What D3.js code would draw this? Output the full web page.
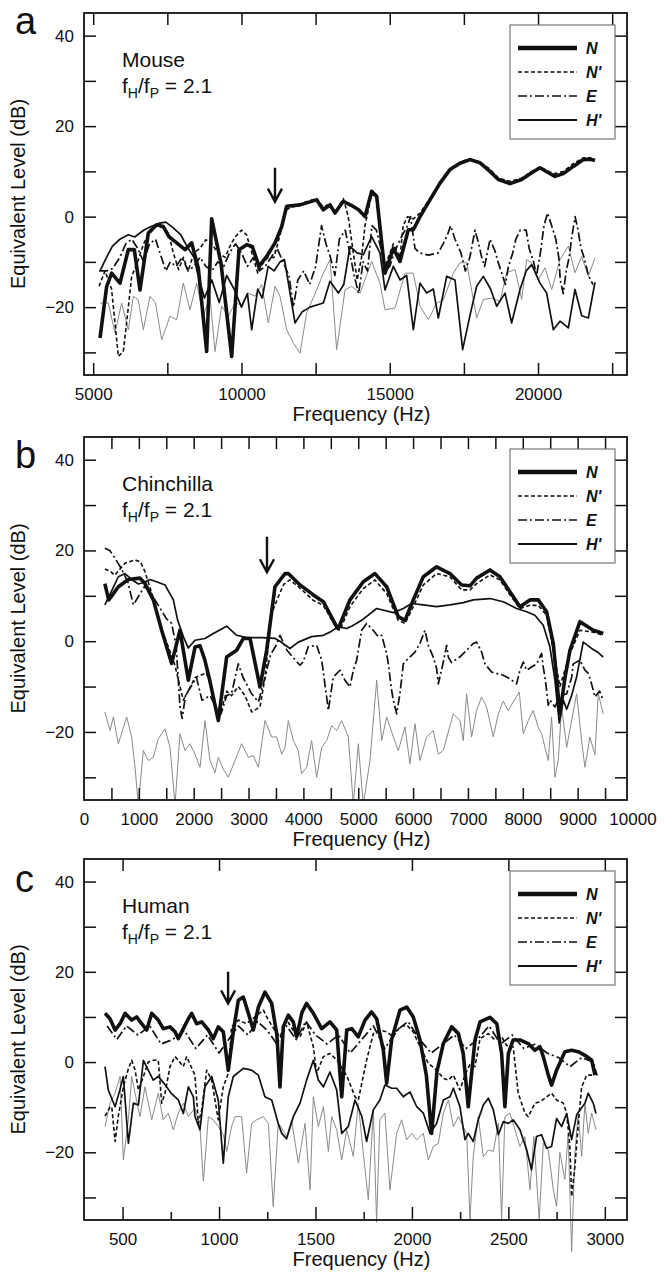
<!DOCTYPE html>
<html>
<head>
<meta charset="utf-8">
<script src="https://d3js.org/d3.v7.min.js"></script>
<style>
body { margin: 0; background: #fff; }
text { font-family: "Liberation Sans", Arial, Helvetica, sans-serif; fill: #111; }
</style>
</head>
<body>
<div id="chart"></div>
<script>
// ---- panel a : mouse ----
var mouseN = [[5230,-26.8],[5455,-15.4],[5623,-12.5],[5904,-14.7],[6185,-7.3],[6387,-7.3],[6578,-16.2],[6859,-3.6],[7140,-1.8],[7365,-2.2],[7556,-4.4],[7815,-5.8],[8096,-7.3],[8321,-5.8],[8545,-11.4],[8826,-29.8],[8995,-0.5],[9310,-10.3],[9670,-30.9],[9917,-7.3],[10175,-6.2],[10366,-6.6],[10591,-11],[10850,-8.8],[11131,-5.8],[11356,-2.2],[11524,2.3],[11973,2.6],[12535,3.7],[12760,1.5],[12985,2.6],[13154,0.8],[13435,3.4],[13700,2.5],[13950,1.5],[14165,0],[14390,5.6],[14559,4.5],[14840,-12.5],[15121,-7],[15345,-9.9],[15626,-2.9],[15795,-2.9],[16020,0],[16357,3.7],[16694,7.4],[17031,10.4],[17368,11.8],[17706,12.6],[18043,11.9],[18380,10],[18662,8.2],[19055,7.3],[19448,8.2],[19786,9.7],[20066,10.8],[20348,9.7],[20572,8.9],[20853,9.5],[21191,11.1],[21528,12.6],[21753,12.7],[21921,12.4]];
var mouseNp = [[5196,-15.4],[5400,-12],[5620,-16],[5848,-30.9],[6016,-29.8],[6185,-20],[6297,-13.2],[6500,-10],[6700,-6],[6860,-4],[7140,-2],[7365,-2.5],[7556,-4],[7700,-8],[7880,-11.7],[8040,-9],[8200,-12],[8400,-8],[8600,-7],[8800,-5.1],[9000,-6],[9200,-8],[9450,-9],[9650,-6],[9800,-4.4],[10000,-3],[10170,-4],[10350,-8],[10550,-12.5],[10750,-10],[10900,-9],[11100,-9],[11300,-4],[11500,1.5],[11973,2.8],[12535,4],[12760,2],[12985,3],[13154,1],[13435,4],[13600,0],[13750,-7],[13900,-14],[14050,-9],[14165,-2],[14390,5],[14559,4],[14700,-5],[14840,-11],[15121,-6],[15345,-9],[15450,-2],[15600,0],[15795,-0.5],[16020,0.8],[16357,4],[16694,7.5],[17031,10.5],[17368,12],[17706,12.8],[18043,12],[18380,10.5],[18662,8.5],[19055,7.8],[19448,8.5],[19786,10],[20066,11],[20348,10],[20572,9.5],[20853,10],[21191,11.7],[21528,13],[21753,13],[21921,12.6]];
var mouseE = [[5200,-12],[5450,-12],[5650,-11.5],[5900,-9],[6100,-6],[6300,-5],[6500,-7],[6700,-10],[6900,-6],[7100,-5],[7300,-9],[7450,-12],[7600,-10],[7800,-11],[8000,-9],[8200,-12],[8400,-11],[8600,-9],[8800,-11],[9000,-12],[9200,-10],[9400,-11],[9600,-8],[9800,-6],[10000,-8],[10200,-11],[10400,-9],[10600,-12],[10800,-11],[11000,-9],[11200,-7],[11400,-10],[11600,-13],[11750,-20],[11900,-14],[12100,-12],[12300,-15],[12500,-11],[12700,-2],[12850,-6],[13000,-9],[13150,-13],[13300,-5],[13500,-3],[13650,-8],[13800,-13],[13950,-17],[14100,-10],[14250,-12],[14400,-2],[14550,-3],[14700,-7],[14850,-12],[15000,-11],[15150,-8],[15350,-5],[15600,-2],[15700,0],[15850,-7],[16000,-8],[16300,-8.5],[16640,-8],[16800,-6],[16950,-4],[17050,-2],[17200,-5],[17400,-8],[17550,-12],[17700,-9],[17875,-3],[18000,-6],[18100,-9],[18200,-11],[18380,-5],[18550,-7.6],[18650,-10],[18800,-13],[18900,-15],[19000,-11],[19150,-8],[19250,-5],[19400,-3],[19600,-3],[19700,-7],[19850,-10],[19950,-13],[20080,-8],[20200,-2],[20320,0.8],[20460,-2],[20600,-5],[20700,-9],[20750,-14],[20850,-17],[20950,-12],[21050,-9],[21150,-4],[21250,0],[21350,-3],[21450,-7],[21550,-9],[21700,-13],[21850,-15]];
var mouseH = [[5230,-12],[5450,-9],[5650,-6.5],[5900,-5],[6185,-4],[6400,-4.5],[6700,-3],[6950,-2.2],[7200,-1.5],[7450,-1.2],[7700,-2.5],[7950,-4],[8200,-7],[8400,-9],[8500,-12],[8750,-18],[9000,-14],[9250,-19],[9500,-13],[9750,-16],[10000,-20],[10200,-17],[10344,-25],[10550,-16],[10700,-18],[10900,-11],[11100,-12],[11300,-10],[11450,-9.5],[11805,-23.5],[12050,-21],[12310,-20],[12760,-19.1],[12985,-14.3],[13266,-16.9],[13450,-15],[13660,-6.6],[13900,-8],[14109,-8.4],[14390,-4.4],[14670,-8],[14840,-16.2],[15121,-11],[15345,-14],[15570,-13],[15795,-25],[16020,-14.7],[16245,-16.9],[16470,-16],[16638,-22.4],[16919,-13.2],[17200,-14],[17458,-29.4],[17700,-22],[17930,-15.4],[18156,-13.2],[18400,-16],[18605,-19.8],[18887,-16.9],[19110,-23.5],[19392,-16.1],[19600,-12],[19786,-10.6],[20066,-14.7],[20290,-16.9],[20516,-25],[20741,-23.1],[21022,-24.6],[21247,-16.1],[21472,-21.9],[21697,-22.4],[21921,-14.5]];
var mouseNoise = [[5230,-19.1],[5510,-19.1],[5735,-25.7],[5960,-19.1],[6185,-25],[6354,-17.6],[6522,-18.4],[6691,-25],[6916,-17.6],[7100,-19],[7309,-27.2],[7590,-22],[7815,-22.8],[8040,-14.7],[8264,-20.6],[8489,-14.7],[8714,-22],[8939,-17.6],[9107,-29.8],[9332,-19.8],[9557,-22],[9782,-19.1],[10007,-19.5],[10231,-16.9],[10456,-17.6],[10680,-15],[10906,-23.5],[11131,-15.4],[11299,-17.6],[11524,-25],[11749,-27.9],[11973,-30.2],[12198,-21.3],[12535,-16.2],[12760,-12.5],[12985,-9.5],[13210,-29.4],[13491,-16.2],[13716,-15.4],[13997,-16.9],[14390,-9.9],[14671,-14.7],[14840,-20.6],[15177,-20.2],[15514,-12.5],[15795,-12.5],[16020,-19.8],[16301,-22.8],[16582,-19.1],[16807,-18.4],[17144,-12.5],[17369,-10.2],[17594,-10.2],[17931,-22.4],[18156,-18.3],[18437,-18],[18718,-18.7],[18943,-12.4],[19224,-11.7],[19448,-18.3],[19617,-9.5],[19786,-10.2],[20010,-13.9],[20235,-11.3],[20460,-16.1],[20741,-9.5],[21022,-6.5],[21247,-12.4],[21472,-8.8],[21697,-13.2],[21921,-9.1]];

// ---- panel b : chinchilla ----
var chinN = [[380,12.7],[450,9.1],[520,10.2],[626,12],[808,13.6],[1021,13.9],[1112,12.7],[1264,9.1],[1416,2.4],[1598,-4.9],[1750,2.4],[1902,-8.6],[2024,-1.3],[2115,-1],[2200,-4],[2300,-9],[2449,-17.5],[2601,-3.5],[2783,-2],[2905,0.6],[3027,0.6],[3209,-10.1],[3330,-2],[3482,12],[3665,14.9],[3725,14.9],[3938,12.4],[4181,10.2],[4363,8.7],[4606,3.2],[4637,2.8],[4849,9.1],[5092,13.1],[5305,14.9],[5518,12],[5730,5.4],[5852,4.6],[6004,9.1],[6186,14.2],[6429,16.4],[6672,14.9],[6885,12.4],[7037,12.2],[7158,13.9],[7401,15.7],[7583,14.2],[7766,10.9],[7948,7.6],[8130,9.1],[8282,9.1],[8434,6.5],[8556,-0.5],[8677,-16],[8770,-8],[8860,-2],[9042,4.3],[9285,2.4],[9467,1.7]];
var chinNp = [[380,15.9],[470,15.5],[560,14.5],[747,17.2],[930,17.9],[1030,17.5],[1112,15.3],[1250,10],[1400,3],[1530,-1],[1650,-5],[1811,-13],[1900,-11],[2024,-8],[2230,-7],[2320,-10],[2449,-17.5],[2601,-11],[2690,-12],[2813,-10],[2935,-12],[3057,-15.6],[3209,-14.5],[3300,-8],[3421,6.1],[3543,9.8],[3640,12.5],[3755,13.5],[3938,11.7],[4181,9],[4363,7.9],[4606,2.8],[4667,2.4],[4849,7.6],[5092,11.6],[5305,13.5],[5518,10.5],[5730,4.6],[5852,3.9],[6004,7.6],[6186,12.4],[6429,14.9],[6672,14.2],[6885,11.3],[7037,11.3],[7158,12.7],[7401,14.6],[7583,13.5],[7766,10.2],[7948,7.2],[8130,7.9],[8282,7.9],[8434,5.7],[8556,-2],[8677,-10],[8860,-2.7],[9042,2.4],[9285,2],[9467,1.3]];
var chinE = [[380,20.5],[470,20],[565,18.3],[680,16],[800,13],[900,8],[1000,10],[1100,12],[1200,11],[1350,8],[1500,5],[1598,3.9],[1680,-1],[1750,-14.5],[1790,-17],[1850,-12],[1950,-10],[2050,-8],[2150,-13],[2300,-12],[2400,-14.5],[2500,-16],[2601,-12],[2690,-11.5],[2813,-5],[2900,-8],[3057,-11.6],[3180,-13.4],[3300,-8],[3400,-3],[3500,-1],[3573,1.3],[3700,-2],[3877,-4.5],[3940,-5.3],[3998,-4.5],[4090,-1.2],[4242,-0.9],[4333,-4.2],[4364,-6.8],[4394,-9.7],[4424,-12.3],[4454,-15.3],[4545,-7.9],[4667,-6.4],[4758,-8.6],[4849,-10.1],[4910,-6.4],[4971,-4.2],[5001,-2],[5062,2.4],[5153,3.9],[5245,2.8],[5366,1],[5427,1.3],[5518,-2.7],[5548,-5],[5578,-7.9],[5609,-10.8],[5639,-13],[5700,-16],[5760,-11.6],[5822,-5],[5882,-4.2],[6034,-2.4],[6125,-0.5],[6216,2.4],[6277,-0.9],[6368,-3.5],[6429,-6],[6460,-9.4],[6551,-4.6],[6612,-0.9],[6642,-3.5],[6700,-4.7],[6850,-3.5],[6976,-2],[7097,-0.5],[7158,-0.2],[7249,-2.4],[7310,-5],[7431,-6.8],[7522,-7.1],[7644,-7.5],[7766,-8.3],[7887,-9.4],[7948,-6.4],[8009,-4.6],[8070,-6.4],[8160,-5.7],[8252,-5],[8343,-2.7],[8373,-5.7],[8404,-7.9],[8434,-10.8],[8464,-14.1],[8495,-13],[8586,-14.5],[8677,-12],[8800,-11.6],[8890,-8],[8920,-5],[9042,-4.2],[9133,-6.4],[9194,-7.1],[9254,-9.4],[9315,-12.3],[9400,-11],[9467,-13]];
var chinH = [[380,8],[500,11],[626,14.2],[747,14.9],[869,13.6],[990,12.6],[1100,13],[1200,13.6],[1325,13.1],[1477,12.4],[1629,9.1],[1708,4.6],[1811,1],[1900,-1.5],[2024,0.2],[2206,0.6],[2358,1.7],[2601,3.3],[2783,1.3],[2966,0.8],[3239,0.8],[3482,0.6],[3573,0],[3755,-1.6],[3908,-0.2],[4150,1],[4363,1.3],[4485,2],[4636,3.2],[4788,2.8],[4880,3.3],[5062,4.6],[5336,7.2],[5640,6.3],[5822,7.2],[5973,8.3],[6186,8],[6429,7.6],[6672,8],[6915,8.5],[7097,9.1],[7401,9.4],[7644,8.7],[7887,7.2],[8070,6.5],[8221,5.7],[8373,3.5],[8495,-1.3],[8586,-8.6],[8665,-18],[8740,-13],[8800,-15],[8890,-12],[8981,-7.9],[9102,-0.2],[9254,-1.6],[9376,-2.5],[9467,-3.5]];
var chinNoise = [[380,-15.6],[474,-19.7],[535,-16.7],[626,-22.6],[778,-16.7],[869,-21.1],[930,-27.8],[990,-36],[1082,-24.1],[1173,-26.3],[1264,-25.6],[1355,-21.5],[1477,-19.3],[1568,-23.4],[1660,-36],[1750,-20.4],[1841,-24.1],[1932,-22.6],[2024,-24.9],[2115,-27.8],[2206,-17.5],[2297,-26.3],[2388,-29],[2449,-25.6],[2540,-28.2],[2631,-30],[2753,-26.3],[2874,-22.6],[2996,-25.6],[3087,-25.2],[3178,-27.8],[3300,-17.5],[3421,-21.1],[3512,-21.1],[3604,-24.9],[3665,-23.4],[3725,-17.5],[3816,-21.9],[3907,-24.1],[3968,-29.2],[4059,-27.8],[4150,-21.9],[4242,-30],[4333,-23.4],[4424,-21.9],[4515,-18.6],[4606,-19.7],[4697,-17.5],[4819,-21.1],[4910,-36],[5001,-22.6],[5092,-36],[5214,-26.3],[5336,-8.6],[5427,-21.9],[5518,-16.7],[5640,-21.1],[5730,-24.1],[5852,-18.9],[5943,-27],[6034,-18.2],[6125,-26.3],[6246,-21.1],[6368,-19.7],[6460,-24.9],[6551,-24.1],[6733,-16],[6855,-17.5],[6915,-21.9],[6976,-11.6],[7067,-21.1],[7158,-15.3],[7249,-12.3],[7340,-14.5],[7462,-21.1],[7553,-16],[7644,-13.2],[7735,-15.3],[7826,-13.4],[7936,-11.2],[8009,-20.4],[8100,-17.5],[8191,-15.3],[8282,-19],[8343,-20.4],[8404,-23.4],[8464,-26.3],[8525,-16.7],[8586,-30],[8647,-26.3],[8708,-14.5],[8800,-23.4],[8890,-17.5],[8981,-11.6],[9072,-21.9],[9133,-27.8],[9224,-21.1],[9315,-25],[9376,-11.6],[9467,-16]];

// ---- panel c : human ----
var humanN = [[409,10.8],[435,9.6],[461,7.1],[487,8.5],[513,10.8],[547,9.3],[573,10],[599,8.5],[625,7.1],[651,10.8],[685,9.3],[711,7.4],[746,7.8],[772,6.7],[789,5.2],[815,7.4],[841,9.6],[858,10.8],[884,8.5],[910,8.9],[945,7.1],[970,5.2],[996,7.8],[1022,6.7],[1048,-1.8],[1075,7],[1100,13.7],[1126,14.4],[1152,10.8],[1178,7.1],[1204,12.2],[1238,15.5],[1273,13],[1300,6],[1316,-5.5],[1333,7.8],[1359,10.4],[1385,8.9],[1402,5.6],[1430,11],[1454,13],[1489,10.8],[1532,7.4],[1575,8.9],[1610,7.1],[1636,-7.7],[1662,7.1],[1688,7.4],[1722,5.6],[1757,9.3],[1791,11.1],[1817,9.6],[1852,2.6],[1869,-4.7],[1895,5],[1938,11.5],[1973,12.2],[2007,10],[2042,4.9],[2075,-3],[2102,-15.8],[2130,-2],[2163,4.1],[2206,7.8],[2241,6.3],[2266,1.9],[2292,-9.9],[2327,4.9],[2353,8.9],[2405,9.9],[2440,8.5],[2465,1.9],[2482,-9.9],[2500,1.9],[2525,4.9],[2560,4.9],[2603,4.1],[2637,2.6],[2664,3.4],[2681,1.2],[2707,-2.9],[2724,-5.1],[2750,-1.8],[2793,2.3],[2828,2.6],[2862,2.3],[2897,1.5],[2932,0.4],[2949,-2.9]];
var humanNp = [[409,-12],[435,-10],[444,-9.9],[461,-17.6],[478,-12],[504,-5.5],[530,-1.5],[547,0.4],[565,-1.8],[582,-6.2],[608,-3.2],[633,0],[659,0.4],[685,0.4],[703,-9.1],[720,-6.9],[746,-1],[772,1.2],[789,0.4],[815,-1],[832,1.2],[875,-2.9],[893,-13.6],[910,-10.6],[936,-1.8],[962,-4],[996,-12.8],[1022,-5.5],[1048,-2.5],[1065,7.8],[1100,9.3],[1143,8.5],[1186,10],[1230,11.5],[1256,9.3],[1290,7],[1316,5.6],[1351,9.3],[1385,7],[1420,5.6],[1454,8.9],[1489,3.4],[1506,-2.5],[1541,1.2],[1575,1.9],[1610,0.5],[1662,-3],[1705,-7.7],[1722,-8.4],[1765,0.4],[1800,6.3],[1834,7.1],[1869,6.7],[1903,5.6],[1938,7.8],[1973,8.2],[2007,6.7],[2042,3.4],[2085,-0.3],[2128,-1.8],[2163,-3.6],[2189,-4],[2215,-2.9],[2249,-6.2],[2275,-2.9],[2301,-0.5],[2327,-1],[2353,5.2],[2396,6.3],[2431,4.9],[2465,5.6],[2491,3.7],[2525,3.4],[2551,-6.9],[2586,-11.3],[2603,-12.1],[2638,-9.1],[2664,-8.8],[2690,-8],[2724,-6.9],[2750,-8.4],[2785,-9.1],[2802,-11.3],[2819,-18.7],[2828,-29.8],[2845,-23.1],[2862,-14],[2880,-5.5],[2906,-2.9],[2932,-2.9],[2949,-2.5]];
var humanE = [[420,8],[470,5],[520,8],[580,6],[640,8],[700,4],[760,5],[820,7],[880,3],[940,6],[1000,2],[1050,5],[1100,8],[1150,6],[1200,9],[1250,7],[1300,4],[1350,8],[1400,5],[1450,9],[1500,6],[1560,4],[1620,6],[1680,2],[1740,5],[1800,8],[1860,3],[1920,7],[1980,9],[2040,5],[2100,2],[2160,4],[2220,6],[2280,3],[2340,5],[2400,8],[2460,4],[2520,6],[2580,3],[2640,4],[2700,2],[2760,1],[2820,-1],[2880,1],[2940,0],[2960,-3]];
var humanH = [[409,-1],[426,-6.2],[461,-9.9],[487,-6],[504,-3.2],[530,-18],[556,-9.1],[582,-9.5],[608,0.4],[633,-1.8],[659,-4],[685,-3.2],[720,-5],[754,-7],[789,-8.4],[815,-11.4],[841,-5.5],[867,-7.7],[875,-12],[901,-15],[927,-5.5],[962,-3.2],[996,-8.4],[1022,-22.4],[1048,-7.7],[1074,-3.2],[1126,-1.4],[1169,-1.8],[1204,-2.9],[1238,-7.7],[1273,-8.4],[1307,-13.6],[1325,-15.8],[1350,-17],[1385,-12.1],[1420,-9.1],[1454,-4],[1489,0.4],[1515,-4],[1541,-5.5],[1575,-2.2],[1610,-6.2],[1636,-15.8],[1670,-14.3],[1705,-8.4],[1740,-12],[1765,-17.6],[1800,-10.6],[1834,-8.4],[1860,-5.1],[1895,-5.8],[1921,-5.8],[1955,-7.7],[1990,-6.6],[2025,-9.9],[2059,-11.3],[2094,-15.8],[2128,-13.6],[2163,-8.4],[2197,-7.7],[2215,-5.8],[2249,-9.9],[2275,-17.2],[2292,-15.8],[2318,-17.6],[2344,-12.8],[2370,-9.5],[2396,-8],[2422,-10.6],[2448,-16.1],[2474,-13.2],[2500,-13.6],[2525,-12.8],[2560,-15],[2595,-19.5],[2620,-23.9],[2646,-16.5],[2672,-16.1],[2698,-19.1],[2724,-18.7],[2750,-12.5],[2776,-14.3],[2802,-11.4],[2828,-17.2],[2854,-11.7],[2897,-9.1],[2914,-6.9],[2940,-9.1],[2954,-11.4]];
var humanNoise = [[409,-14.3],[435,-9.1],[461,-6.9],[487,-3.2],[504,-21.7],[530,-12.8],[547,-3.2],[590,-12.1],[616,-5.5],[651,-12.8],[685,-6.9],[711,-12.8],[737,-11.3],[763,-15],[789,-11.3],[815,-9.1],[841,-12.1],[875,-10.2],[901,-14.3],[919,-26.4],[945,-12.1],[970,-12.8],[996,-14.3],[1022,-16.1],[1040,-19.8],[1065,-14.3],[1083,-12.1],[1117,-12.1],[1143,-24.6],[1169,-13.6],[1195,-12.8],[1230,-12.1],[1256,-13.6],[1281,-32],[1307,-13.6],[1316,-14],[1351,-16.5],[1376,-12.8],[1411,-22.4],[1446,-13.6],[1472,-28.3],[1489,-7.7],[1515,-14.3],[1541,-9.9],[1567,-19.8],[1584,-12.1],[1610,-15],[1636,-21.7],[1662,-15],[1696,-20.9],[1722,-9.1],[1748,-20.2],[1774,-30.5],[1800,-10.6],[1817,-35.5],[1834,-12.8],[1860,-11.3],[1886,-28.3],[1921,-15.8],[1947,-12.8],[1973,-17.2],[1999,-15.8],[2025,-17.2],[2059,-15.8],[2085,-21.7],[2111,-18.7],[2137,-18],[2163,-11.3],[2189,-8.4],[2215,-14.3],[2241,-12.1],[2266,-14.3],[2284,-16],[2301,-35],[2318,-20.9],[2344,-12.1],[2370,-21],[2396,-19.5],[2422,-19.8],[2448,-13.6],[2465,-35],[2482,-12.1],[2508,-11.3],[2534,-15],[2560,-18.7],[2586,-16.5],[2612,-28.3],[2632,-16.5],[2660,-35],[2681,-18],[2707,-19.5],[2733,-28.3],[2750,-32],[2767,-20],[2793,-26],[2810,-15.8],[2828,-42],[2845,-20.2],[2862,-11.3],[2880,-20.9],[2897,-9.1],[2914,-15.8],[2932,-11.3],[2954,-15]];

// ---- ticks and labels ----
var yTicks = [-30, -20, -10, 0, 10, 20, 30, 40];
var yLabels = [-20, 0, 20, 40];
var mouseTicks = [5000, 7500, 10000, 12500, 15000, 17500, 20000, 22500];
var mouseLabels = [5000, 10000, 15000, 20000];
var chinTicks = [500,1000,1500,2000,2500,3000,3500,4000,4500,5000,5500,6000,6500,7000,7500,8000,8500,9000,9500];
var chinLabels = [0,1000,2000,3000,4000,5000,6000,7000,8000,9000,10000];
var humanTicks = [500, 750, 1000, 1250, 1500, 1750, 2000, 2250, 2500, 2750, 3000];
var humanLabels = [500, 1000, 1500, 2000, 2500, 3000];

// arrow: [frequency, top dB, tip dB]
var mouseArrow = [11130, 10.8, 3.3];
var chinArrow = [3336, 23, 15.2];
var humanArrow = [1047, 20, 13];

var W = 664, H = 1272, left = 84, right = 627;
var svg = d3.select("#chart").append("svg").attr("width", W).attr("height", H);

var styles = {
  noise: {stroke: "#8a8a8a", width: 1, dash: null},
  H: {stroke: "#111", width: 1.7, dash: null},
  E: {stroke: "#111", width: 1.7, dash: "9,3,2,3"},
  Np: {stroke: "#111", width: 1.6, dash: "4,2.5"},
  N: {stroke: "#111", width: 3.6, dash: null}
};
var legendItems = [
  {key: "N", label: "N", width: 4.5},
  {key: "Np", label: "N'", width: 1.6},
  {key: "E", label: "E", width: 1.7},
  {key: "H", label: "H'", width: 2}
];

var panels = [
  {id: "a", name: "Mouse", top: 13, bottom: 375, domain: [4690, 23000], ticks: mouseTicks, labels: mouseLabels,
   topTicks: mouseTicks, arrow: mouseArrow, clip: true, letterY: 34,
   data: {noise: mouseNoise, H: mouseH, E: mouseE, Np: mouseNp, N: mouseN}},
  {id: "b", name: "Chinchilla", top: 437, bottom: 800, domain: [0, 9900], ticks: chinTicks, labels: chinLabels,
   topTicks: chinTicks, arrow: chinArrow, clip: true, letterY: 468,
   data: {noise: chinNoise, H: chinH, E: chinE, Np: chinNp, N: chinN}},
  {id: "c", name: "Human", top: 859, bottom: 1220, domain: [300, 3115], ticks: humanTicks, labels: humanLabels,
   topTicks: humanLabels, arrow: humanArrow, clip: false, letterY: 892,
   data: {noise: humanNoise, H: humanH, E: humanE, Np: humanNp, N: humanN}}
];

panels.forEach(function(p) {
  var g = svg.append("g");
  var x = d3.scaleLinear().domain(p.domain).range([left, right]);
  var y = d3.scaleLinear().domain([-35, 45]).range([p.bottom, p.top]);
  var ph = p.bottom - p.top;

  // clip region
  svg.append("clipPath").attr("id", "clip-" + p.id)
    .append("rect").attr("x", left).attr("y", p.top).attr("width", right - left).attr("height", ph);

  // lines
  var line = d3.line().x(function(d) { return x(d[0]); }).y(function(d) { return y(d[1]); });
  var lg = g.append("g");
  if (p.clip) lg.attr("clip-path", "url(#clip-" + p.id + ")");
  ["noise", "H", "E", "Np", "N"].forEach(function(k) {
    var s = styles[k];
    lg.append("path")
      .datum(p.data[k])
      .attr("d", line)
      .attr("fill", "none")
      .attr("stroke", s.stroke)
      .attr("stroke-width", s.width)
      .attr("stroke-linejoin", "round")
      .attr("stroke-dasharray", s.dash);
  });

  // axes (ticks point inward)
  var isMajor = function(d) { return p.labels.indexOf(d) >= 0; };
  var bottomTicks = g.append("g").attr("transform", "translate(0," + p.bottom + ")")
    .call(d3.axisBottom(x).tickValues(p.ticks).tickSize(-12).tickFormat(""));
  if (p.id === "c") {
    bottomTicks.selectAll(".tick line").attr("y2", function(d) { return isMajor(d) ? -13 : -8; });
  }
  g.append("g").attr("transform", "translate(0," + p.top + ")")
    .call(d3.axisTop(x).tickValues(p.topTicks).tickSize(-12).tickFormat(""));
  g.append("g").attr("transform", "translate(" + left + ",0)")
    .call(d3.axisLeft(y).tickValues(yTicks).tickSize(-12).tickFormat(""));
  g.append("g").attr("transform", "translate(" + right + ",0)")
    .call(d3.axisRight(y).tickValues(yTicks).tickSize(-12).tickFormat(""));

  // tick labels
  g.append("g").attr("transform", "translate(0," + p.bottom + ")")
    .call(d3.axisBottom(x).tickValues(p.labels).tickSize(0).tickPadding(13).tickFormat(d3.format("d")))
    .call(function(a) { a.select(".domain").remove(); });
  g.append("g").attr("transform", "translate(" + left + ",0)")
    .call(d3.axisLeft(y).tickValues(yLabels).tickSize(0).tickPadding(10).tickFormat(d3.format("d")))
    .call(function(a) { a.select(".domain").remove(); });

  g.selectAll(".domain").remove();
  g.selectAll(".tick line").attr("stroke", "#111").attr("stroke-width", 1.5);
  g.selectAll(".tick text").style("font-size", "17px").style("font-family", "'Liberation Sans', Arial, sans-serif").attr("fill", "#111");

  // frame
  g.append("rect").attr("x", left).attr("y", p.top).attr("width", right - left).attr("height", ph)
    .attr("fill", "none").attr("stroke", "#111").attr("stroke-width", 1.8);

  // axis titles
  g.append("text").attr("x", (left + right) / 2 + 6).attr("y", p.bottom + 46)
    .attr("text-anchor", "middle").style("font-size", "20px").text("Frequency (Hz)");
  g.append("text").attr("transform", "translate(25," + ((p.top + p.bottom) / 2) + ") rotate(-90)")
    .attr("text-anchor", "middle").style("font-size", "20px").text("Equivalent Level (dB)");

  // panel letter
  g.append("text").attr("x", 15).attr("y", p.letterY)
    .style("font-size", "38px").text(p.id);

  // species + ratio
  g.append("text").attr("x", 122).attr("y", p.top + 54).style("font-size", "21px").text(p.name);
  var t = g.append("text").attr("x", 122).attr("y", p.top + 80).style("font-size", "21px");
  t.append("tspan").text("f");
  t.append("tspan").attr("dy", 5).style("font-size", "14px").text("H");
  t.append("tspan").attr("dy", -5).text("/f");
  t.append("tspan").attr("dy", 5).style("font-size", "14px").text("P");
  t.append("tspan").attr("dy", -5).text(" = 2.1");

  // arrow
  var ax = x(p.arrow[0]), ay0 = y(p.arrow[1]), ay1 = y(p.arrow[2]);
  g.append("path")
    .attr("d", "M" + ax + "," + ay0 + "L" + ax + "," + ay1 + "M" + (ax - 7) + "," + (ay1 - 13) + "L" + ax + "," + ay1 + "L" + (ax + 7) + "," + (ay1 - 13))
    .attr("fill", "none").attr("stroke", "#111").attr("stroke-width", 2.4);

  // legend
  var lgd = g.append("g").attr("transform", "translate(510," + (p.top + 12) + ")");
  lgd.append("rect").attr("width", 105).attr("height", 114)
    .attr("fill", "#fff").attr("stroke", "#777").attr("stroke-width", 1.2);
  legendItems.forEach(function(it, i) {
    var yy = 23 + i * 24;
    lgd.append("line").attr("x1", 8).attr("x2", 67).attr("y1", yy).attr("y2", yy)
      .attr("stroke", "#111").attr("stroke-width", it.width)
      .attr("stroke-dasharray", styles[it.key].dash);
    lgd.append("text").attr("x", 76).attr("y", yy + 6)
      .style("font-size", "16px").style("font-weight", "bold").style("font-style", "italic")
      .text(it.label);
  });
});
</script>
</body>
</html>
